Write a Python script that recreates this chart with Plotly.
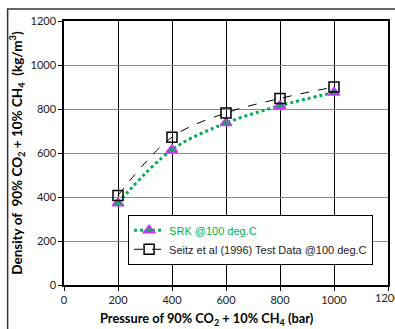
import plotly.graph_objects as go

pressure = [200, 400, 600, 800, 1000]
srk_density = [372, 615, 736, 815, 875]
seitz_density = [407, 672, 782, 848, 900]
x_ticks = [0, 200, 400, 600, 800, 1000, 1200]
y_ticks = [0, 200, 400, 600, 800, 1000, 1200]

fig = go.Figure()
fig.add_trace(go.Scatter(
    x=pressure, y=srk_density, mode="lines+markers",
    name="<span style='color:#00B050'>SRK @100 deg.C</span>",
    line=dict(color="#00B050", width=3, dash="dot", shape="spline"),
    marker=dict(symbol="triangle-up", size=10, color="#20A060",
                line=dict(color="#CC33FF", width=1.5)),
))
fig.add_trace(go.Scatter(
    x=pressure, y=seitz_density, mode="lines+markers",
    name="Seitz et al (1996) Test Data @100 deg.C",
    line=dict(color="black", width=1, dash="dash", shape="spline"),
    marker=dict(symbol="square-open", size=10, color="black",
                line=dict(color="black", width=1.5)),
))

axis_font = dict(family="Lato, Arial", size=11, color="#222")
fig.update_xaxes(range=[0, 1200], tickvals=x_ticks, ticks="outside", ticklen=4,
                 tickcolor="black", showline=True, linecolor="black", linewidth=1.5,
                 mirror=True, showgrid=True, gridcolor="black", gridwidth=1.2,
                 zeroline=False, tickfont=axis_font, automargin=False)
fig.update_yaxes(range=[0, 1200], tickvals=y_ticks, ticks="outside", ticklen=4,
                 tickcolor="black", showline=True, linecolor="black", linewidth=1.5,
                 mirror=True, showgrid=True, gridcolor="#8c8c8c", gridwidth=1,
                 zeroline=False, tickfont=axis_font, automargin=False,
                 title=dict(text="<b>Density of  90% CO<sub>2</sub> + 10% CH<sub>4</sub>  (kg/m<sup>3</sup>)</b>",
                            font=dict(family="Lato, Arial", size=13.5, color="black"), standoff=5))

# x-axis title (offset left as in the reference)
fig.add_annotation(text="<b>Pressure of 90% CO<sub>2</sub> + 10% CH<sub>4</sub> (bar)</b>",
                   xref="paper", yref="paper", x=0.44, y=-0.128, xanchor="center",
                   yanchor="middle", showarrow=False,
                   font=dict(family="Lato, Arial", size=12.8, color="black"))
# last x tick label, partly cut by the page edge as in the reference
fig.add_annotation(text=str(x_ticks[-1]), xref="x", yref="paper", x=x_ticks[-1], y=0,
                   xanchor="center", yanchor="top", yshift=-4, showarrow=False,
                   font=axis_font)

fig.add_shape(type="rect", xref="paper", yref="paper", x0=-0.174, x1=1.2, y0=-0.3, y1=1.045,
              line=dict(color="#333", width=1.5), layer="below")

fig.update_layout(
    width=395, height=329,
    margin=dict(l=63.5, r=7, t=21, b=43.7, autoexpand=False),
    plot_bgcolor="white", paper_bgcolor="white",
    legend=dict(x=0.954, y=0.266, xanchor="right", yanchor="top",
                bgcolor="white", bordercolor="black", borderwidth=1,
                font=dict(family="Arial", size=11, color="#222"),
                tracegroupgap=0, itemwidth=30),
    showlegend=True,
)
fig.write_html("out.html")
